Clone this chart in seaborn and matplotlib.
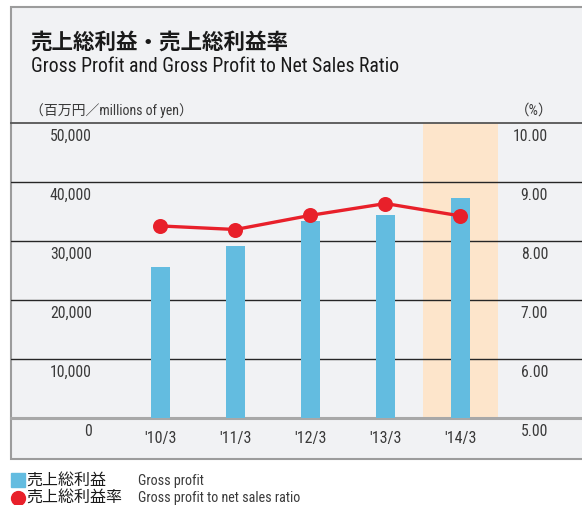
import seaborn as sns
import matplotlib.pyplot as plt
from matplotlib.patches import Rectangle
from matplotlib.lines import Line2D
from matplotlib.transforms import blended_transform_factory, ScaledTranslation

# Data
periods = ["'10/3", "'11/3", "'12/3", "'13/3", "'14/3"]
gross_profit = [25600, 29200, 33400, 34500, 37300]     # millions of yen
profit_ratio = [8.26, 8.20, 8.44, 8.64, 8.43]          # %
left_ticks = [0, 10000, 20000, 30000, 40000, 50000]
right_ticks = [5.0, 6.0, 7.0, 8.0, 9.0, 10.0]
highlight = "'14/3"

BAR_C = "#63BCE0"
LINE_C = "#E8202A"
BAND_C = "#FDE5CB"
BG_C = "#F1F2F4"
TXT_C = "#3a3a3a"

NARROW = ["Roboto Condensed", "Archivo Narrow", "Noto Sans CJK JP", "DejaVu Sans"]
JP = ["Noto Sans CJK JP", "DejaVu Sans"]

sns.set_style("white")
plt.rcParams["font.family"] = NARROW

W, H = 582, 506
fig = plt.figure(figsize=(W / 100, H / 100), dpi=100)
fig.patch.set_facecolor("white")

def fx(px):
    return px / W

def fy(py):
    return 1 - py / H

# grey frame behind everything
fig.patches.append(Rectangle((fx(11), fy(460)), 1.2, fy(8) - fy(460),
                             transform=fig.transFigure, facecolor=BG_C,
                             edgecolor="#9c9c9c", lw=1.5, zorder=-5))

ax = fig.add_axes([fx(11), fy(419.3), 1 - fx(11), fy(124.3) - fy(419.3)])
ax.set_facecolor("none")

# highlighted year band
hi = periods.index(highlight)
ax.axvspan(hi - 0.5, hi + 0.5, color=BAND_C, zorder=0, lw=0)

sns.barplot(x=periods, y=gross_profit, ax=ax, color=BAR_C, width=0.25,
            saturation=1, edgecolor="none", linewidth=0, zorder=3)

ax2 = ax.twinx()
sns.pointplot(x=periods, y=profit_ratio, ax=ax2, color=LINE_C, markers="o",
              errorbar=None, markersize=9, linewidth=2.4)

ax.set_ylim(left_ticks[0], left_ticks[-1])
ax.set_yticks(left_ticks)
ax.yaxis.grid(True, color="#262626", lw=1)
ax.set_axisbelow(True)
gl = ax.yaxis.get_gridlines()
gl[0].set_visible(False)
gl[-1].set_visible(False)
ax.tick_params(axis="y", left=False, right=False, labelleft=False)
ax.tick_params(axis="x", bottom=False, pad=5, labelsize=11.5, labelcolor=TXT_C)
for s in ["left", "right"]:
    ax.spines[s].set_visible(False)
ax.spines["top"].set_color("#555555")
ax.spines["top"].set_linewidth(1.3)
ax.spines["bottom"].set_color("#a8a8a8")
ax.spines["bottom"].set_linewidth(2.2)
ax.set_xlabel("")
ax.set_ylabel("")

ax2.set_ylim(right_ticks[0], right_ticks[-1])
ax2.set_yticks(right_ticks)
ax2.tick_params(axis="y", left=False, right=False, labelleft=False,
                labelright=False)
for s in ax2.spines.values():
    s.set_visible(False)
ax2.set_xlabel("")
ax2.set_ylabel("")
ax.set_xlim(-1.993, 5.62)

# tick labels drawn just below each gridline
off = ScaledTranslation(0, -0.12, fig.dpi_scale_trans)
tl = blended_transform_factory(ax.transAxes, ax.transData) + off
for v in left_ticks:
    ax.text((92 - 11) / 571, v, f"{v:,}", transform=tl, ha="right",
            va="center", fontsize=11.3, color=TXT_C, clip_on=False)
tr = blended_transform_factory(ax2.transAxes, ax2.transData) + off
for v in right_ticks:
    ax2.text((548 - 11) / 571, v, f"{v:.2f}", transform=tr, ha="right",
             va="center", fontsize=11.3, color=TXT_C, clip_on=False)

# titles
fig.text(fx(30), fy(42), "売上総利益・売上総利益率", family=JP, fontweight="bold",
         fontsize=15.5, color="#1a1a1a", va="center")
fig.text(fx(31), fy(72.5), "Gross Profit and Gross Profit to Net Sales Ratio",
         fontsize=14.2, color="#1a1a1a", va="baseline")
fig.text(fx(30), fy(111), "（百万円／millions of yen）", fontsize=10,
         color=TXT_C, va="center")
fig.text(fx(553), fy(111), "（%）", fontsize=10.5, color=TXT_C,
         va="center", ha="right")

# legend
fig.add_artist(Line2D([fx(18.3)], [fy(481)], marker="s", markersize=9.5,
                      color=BAR_C, transform=fig.transFigure, lw=0))
fig.add_artist(Line2D([fx(18.3)], [fy(499)], marker="o", markersize=10,
                      color=LINE_C, transform=fig.transFigure, lw=0))
fig.text(fx(26), fy(481.5), "売上総利益", family=JP, fontsize=11.5,
         color="#1a1a1a", va="center")
fig.text(fx(26), fy(498.5), "売上総利益率", family=JP, fontsize=11.5,
         color="#1a1a1a", va="center")
fig.text(fx(138), fy(481.5), "Gross profit", fontsize=10.2,
         color=TXT_C, va="center")
fig.text(fx(138), fy(498.5), "Gross profit to net sales ratio",
         fontsize=10.2, color=TXT_C, va="center")

fig.savefig("out.png", dpi=100, facecolor="white")
